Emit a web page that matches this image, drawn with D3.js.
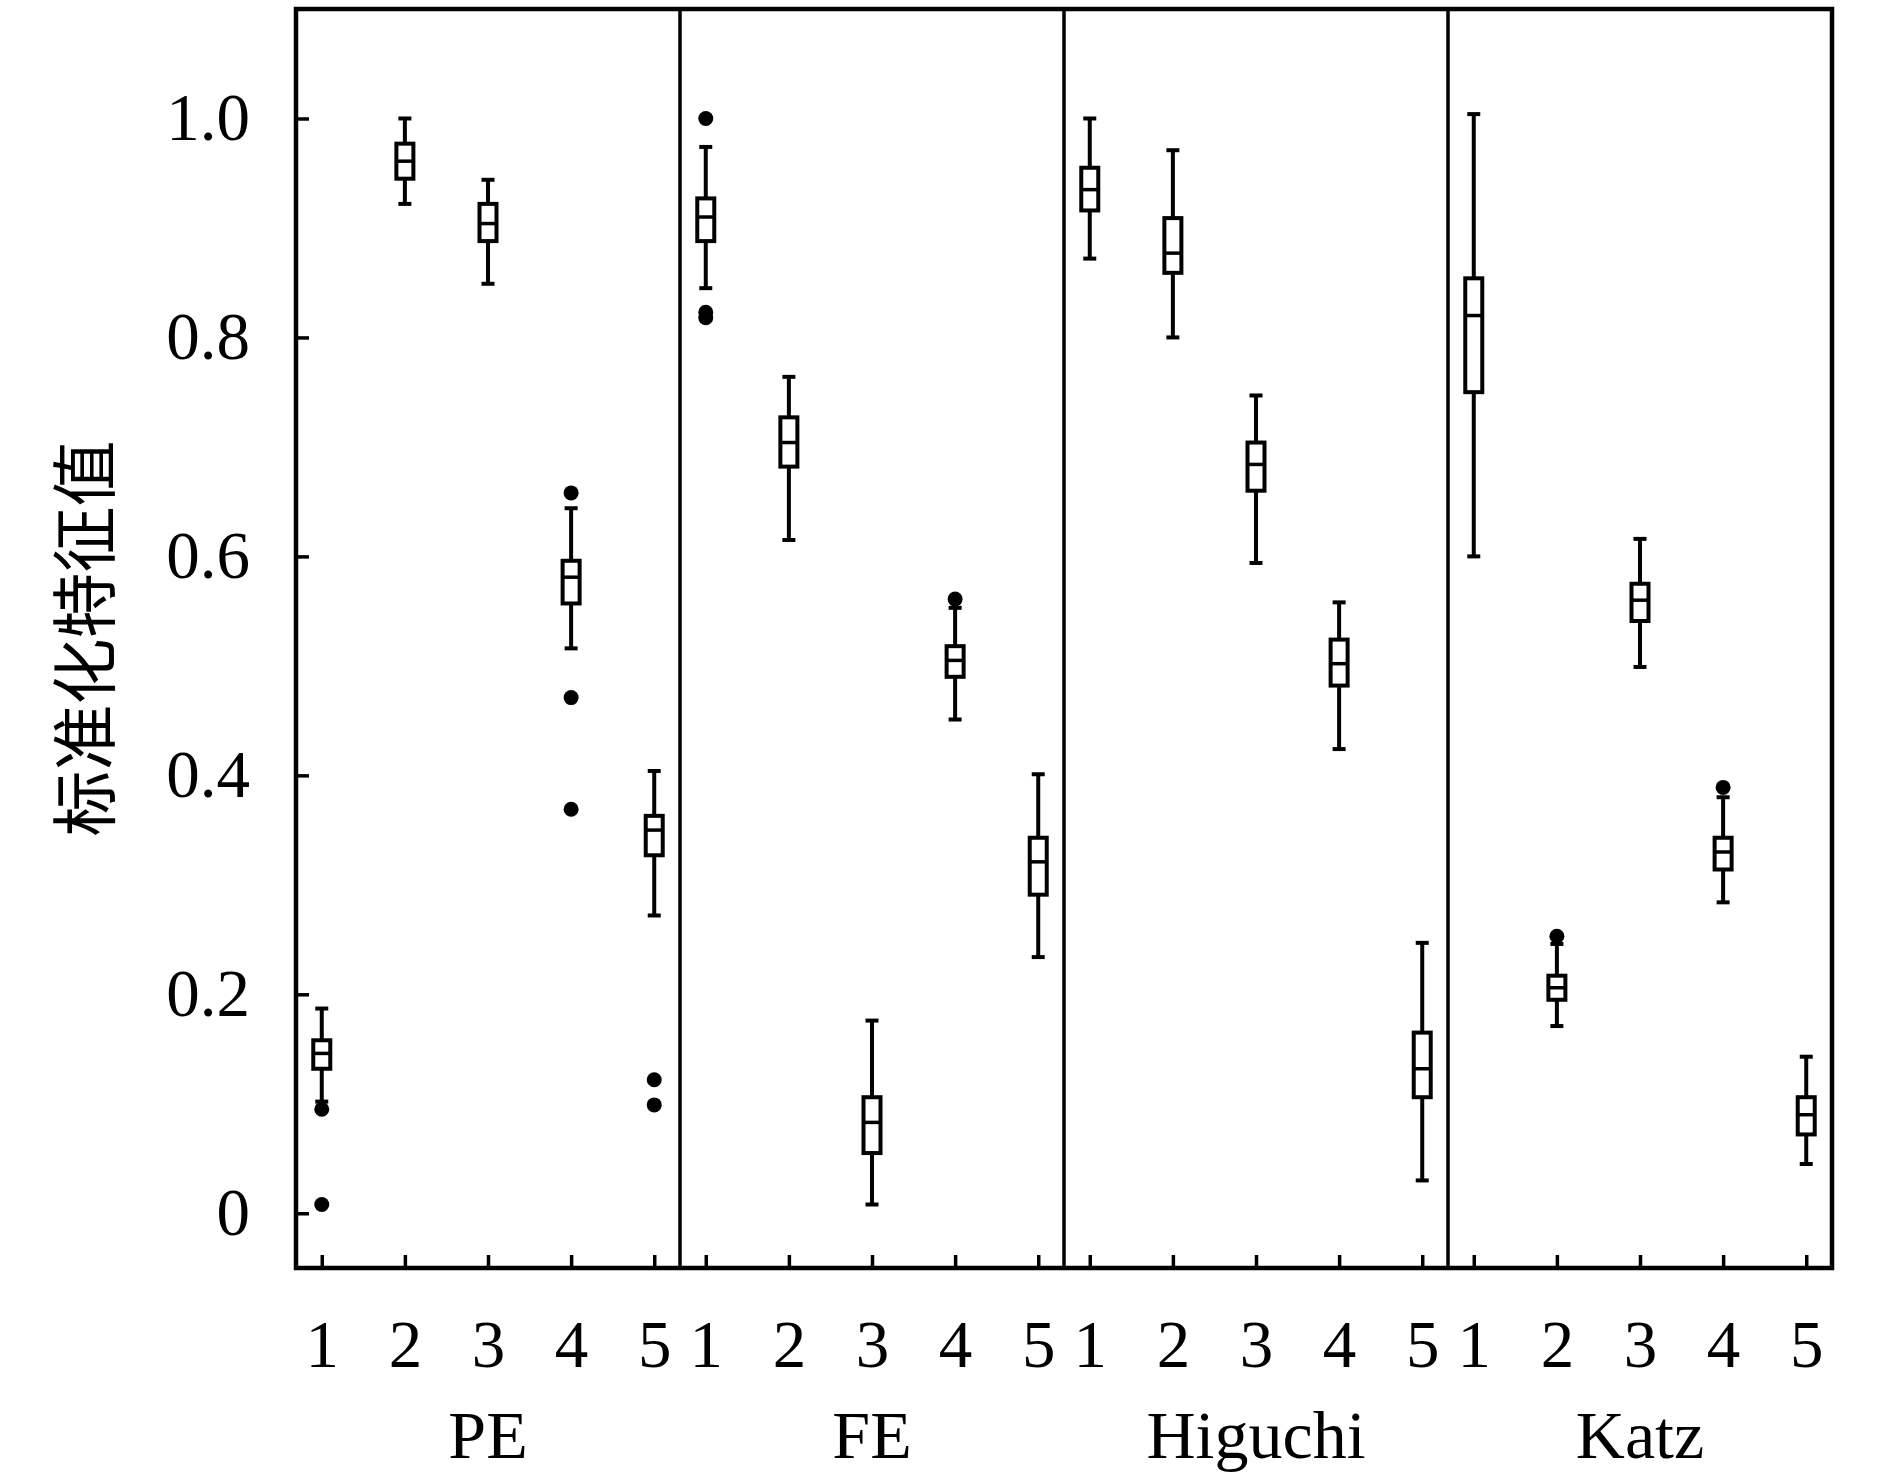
<!DOCTYPE html>
<html>
<head>
<meta charset="utf-8">
<script src="https://cdn.jsdelivr.net/npm/d3@7"></script>
<style>
  html, body { margin: 0; padding: 0; background: #ffffff; }
  svg { display: block; }
  .serif { font-family: "Liberation Serif", "DejaVu Serif", serif; }
</style>
</head>
<body>
<svg id="chart"></svg>
<script>
// Datos
const grupos = ['PE', 'FE', 'Higuchi', 'Katz'];
const clases = [1, 2, 3, 4, 5];
const ticksY = [0, 0.2, 0.4, 0.6, 0.8, 1.0];

// una fila por grupo, una columna por clase
const bigoteSup = [
  [0.187, 1.000, 0.944, 0.644, 0.404],
  [0.974, 0.764, 0.176, 0.553, 0.401],
  [1.000, 0.971, 0.747, 0.558, 0.247],
  [1.004, 0.246, 0.616, 0.380, 0.143]
];
const cuartilSup = [
  [0.158, 0.977, 0.922, 0.596, 0.363],
  [0.927, 0.727, 0.106, 0.518, 0.343],
  [0.955, 0.909, 0.704, 0.524, 0.165],
  [0.854, 0.217, 0.575, 0.343, 0.106]
];
const mediana = [
  [0.146, 0.961, 0.904, 0.581, 0.350],
  [0.910, 0.704, 0.083, 0.505, 0.321],
  [0.935, 0.877, 0.684, 0.502, 0.132],
  [0.820, 0.206, 0.560, 0.330, 0.090]
];
const cuartilInf = [
  [0.132, 0.945, 0.888, 0.557, 0.327],
  [0.888, 0.682, 0.055, 0.490, 0.291],
  [0.916, 0.859, 0.660, 0.482, 0.106],
  [0.750, 0.195, 0.541, 0.314, 0.072]
];
const bigoteInf = [
  [0.102, 0.922, 0.849, 0.516, 0.272],
  [0.845, 0.615, 0.008, 0.451, 0.234],
  [0.872, 0.800, 0.594, 0.424, 0.030],
  [0.600, 0.171, 0.499, 0.284, 0.045]
];
const atipicos = [
  [[0.095, 0.008], [], [], [0.658, 0.471, 0.369], [0.122, 0.099]],
  [[1.000, 0.823, 0.818], [], [], [0.561], []],
  [[], [], [], [], []],
  [[], [0.253], [], [0.389], []]
];

// Constantes del gráfico
const ancho = 1890, alto = 1483;
const izq = 296, der = 1832, sup = 9, inf = 1268;
const grosor = 4;
const anchoCaja = 17, anchoTope = 13, radio = 7.5;

const svg = d3.select('#chart')
  .attr('width', ancho)
  .attr('height', alto);

// Escalas
const escalaGrupo = d3.scaleBand().domain(grupos).range([izq, der]).paddingInner(0).paddingOuter(0);
const escalaY = d3.scaleLinear().domain([-0.05, 1.1]).range([inf, sup]);

// Cajas (filas planas para el data join)
const filas = [];
grupos.forEach((g, gi) => {
  clases.forEach((c, ci) => {
    filas.push({
      grupo: g, clase: c,
      hi: bigoteSup[gi][ci], q3: cuartilSup[gi][ci], med: mediana[gi][ci],
      q1: cuartilInf[gi][ci], lo: bigoteInf[gi][ci], out: atipicos[gi][ci]
    });
  });
});

grupos.forEach((g, gi) => {
  const x0 = escalaGrupo(g);
  const escalaX = d3.scaleLinear().domain([0.69, 5.31]).range([0, escalaGrupo.bandwidth()]);

  const panel = svg.append('g').attr('transform', `translate(${x0},0)`);

  // eje x con marcas hacia dentro
  const ejeX = panel.append('g')
    .attr('class', 'serif')
    .attr('transform', `translate(0,${inf})`)
    .call(d3.axisBottom(escalaX).tickValues(clases).tickFormat(d3.format('d'))
      .tickSizeInner(-13).tickSizeOuter(0).tickPadding(51));
  ejeX.select('.domain').remove();
  ejeX.selectAll('.tick line').attr('stroke', '#000').attr('stroke-width', 3.5);
  ejeX.selectAll('.tick text').attr('fill', '#000').attr('font-size', 67);

  const datos = filas.filter(d => d.grupo === g);
  const cajas = panel.selectAll('.caja').data(datos).enter().append('g').attr('class', 'caja');

  cajas.append('line')
    .attr('x1', d => escalaX(d.clase)).attr('x2', d => escalaX(d.clase))
    .attr('y1', d => escalaY(d.hi)).attr('y2', d => escalaY(d.lo))
    .attr('stroke', '#000').attr('stroke-width', grosor);

  ['hi', 'lo'].forEach(k => {
    cajas.append('line')
      .attr('x1', d => escalaX(d.clase) - anchoTope / 2).attr('x2', d => escalaX(d.clase) + anchoTope / 2)
      .attr('y1', d => escalaY(d[k])).attr('y2', d => escalaY(d[k]))
      .attr('stroke', '#000').attr('stroke-width', grosor);
  });

  cajas.append('rect')
    .attr('x', d => escalaX(d.clase) - anchoCaja / 2)
    .attr('y', d => escalaY(d.q3))
    .attr('width', anchoCaja)
    .attr('height', d => escalaY(d.q1) - escalaY(d.q3))
    .attr('fill', '#fff').attr('stroke', '#000').attr('stroke-width', grosor);

  cajas.append('line')
    .attr('x1', d => escalaX(d.clase) - anchoCaja / 2).attr('x2', d => escalaX(d.clase) + anchoCaja / 2)
    .attr('y1', d => escalaY(d.med)).attr('y2', d => escalaY(d.med))
    .attr('stroke', '#000').attr('stroke-width', 3.5);

  cajas.selectAll('circle')
    .data(d => d.out.map(v => ({ clase: d.clase, v })))
    .enter().append('circle')
    .attr('cx', d => escalaX(d.clase))
    .attr('cy', d => escalaY(d.v))
    .attr('r', radio)
    .attr('fill', '#000');

  // nombre del grupo
  panel.append('text')
    .attr('class', 'serif')
    .attr('x', escalaGrupo.bandwidth() / 2)
    .attr('y', 1458)
    .attr('text-anchor', 'middle')
    .attr('font-size', 68)
    .text(g);
});

// eje y con marcas hacia dentro
const ejeY = svg.append('g')
  .attr('class', 'serif')
  .attr('transform', `translate(${izq},0)`)
  .call(d3.axisLeft(escalaY).tickValues(ticksY)
    .tickFormat(d => d === 0 ? '0' : d3.format('.1f')(d))
    .tickSizeInner(-13).tickSizeOuter(0).tickPadding(46));
ejeY.select('.domain').remove();
ejeY.selectAll('.tick line').attr('stroke', '#000').attr('stroke-width', 3.5);
ejeY.selectAll('.tick text').attr('fill', '#000').attr('font-size', 67);

// marco y divisiones
svg.append('rect')
  .attr('x', izq).attr('y', sup)
  .attr('width', der - izq).attr('height', inf - sup)
  .attr('fill', 'none').attr('stroke', '#000').attr('stroke-width', 4.5);

svg.selectAll('.divisor')
  .data(grupos.slice(1))
  .enter().append('line')
  .attr('class', 'divisor')
  .attr('x1', d => escalaGrupo(d)).attr('x2', d => escalaGrupo(d))
  .attr('y1', sup).attr('y2', inf)
  .attr('stroke', '#000').attr('stroke-width', 3.5);

// título del eje y
svg.append('text')
  .attr('transform', `translate(80,${(sup + inf) / 2}) rotate(-90)`)
  .attr('text-anchor', 'middle')
  .attr('dominant-baseline', 'central')
  .attr('font-family', '"Noto Sans CJK SC", sans-serif')
  .attr('font-size', 66)
  .text('标准化特征值');
</script>
</body>
</html>
